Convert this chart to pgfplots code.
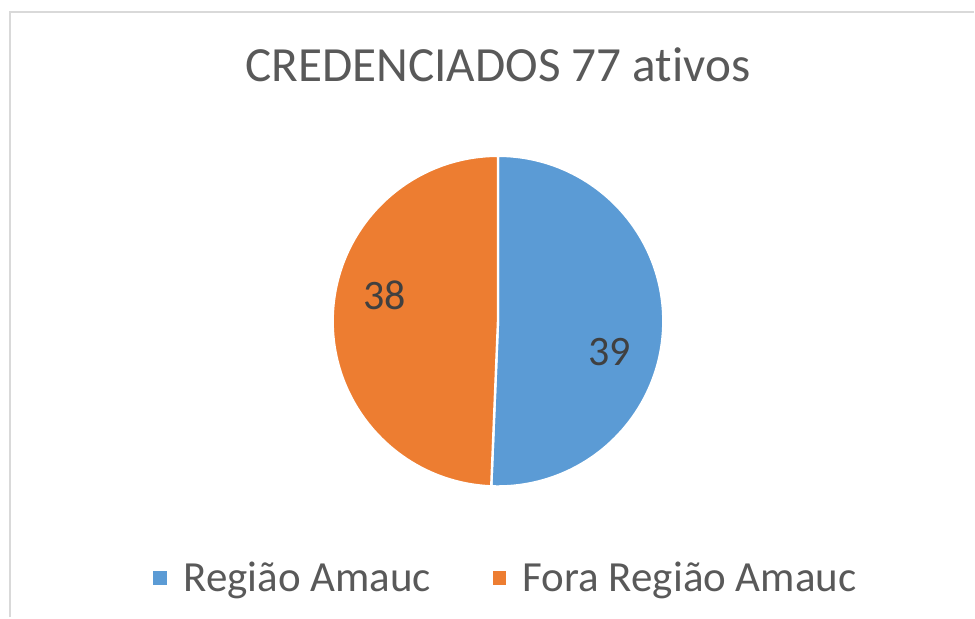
\documentclass[border=0pt]{standalone}
\usepackage{pgfplots}
\pgfplotsset{compat=1.18}
\usepackage{pgfplotstable}
\usepackage{fontspec}
\setmainfont[Ligatures={NoCommon,NoContextual}]{Carlito}
\definecolor{cblue}{HTML}{5B9BD5}
\definecolor{corange}{HTML}{ED7D31}
\definecolor{ctitle}{HTML}{595959}
\definecolor{clabel}{HTML}{404040}
\definecolor{cframe}{HTML}{D9D9D9}

\pgfplotstableread{
value
39
38
}\piedata

\begin{document}%
\begin{tikzpicture}
\pgfplotstablegetelem{0}{value}\of\piedata\edef\va{\pgfplotsretval}
\pgfplotstablegetelem{1}{value}\of\piedata\edef\vb{\pgfplotsretval}
\pgfmathsetmacro\angb{90-360*\va/(\va+\vb)}
\pgfmathsetmacro\bx{498.5+165.5*cos(\angb)}
\pgfmathsetmacro\by{296.5+165.5*sin(\angb)}
\begin{axis}[
  scale only axis, width=487.5pt, height=309pt,
  xmin=0, xmax=975, ymin=0, ymax=618,
  hide axis, clip=false,
  legend columns=2,
  legend style={at={(axis description cs:0.5205,0.0639)}, anchor=center,
    draw=none, fill=none, text=ctitle,
    font=\fontsize{21.5}{25}\selectfont,
    /tikz/every even column/.append style={column sep=29pt}},
  legend image code/.code={\fill[#1,draw=none] (0pt,-3.4pt) rectangle (6.8pt,3.4pt); \path (13pt,0pt);},
]
\path (axis cs:0,0) rectangle (axis cs:975,618);
\draw[cframe, line width=1pt] (axis cs:10,0) -- (axis cs:10,606) -- (axis cs:975,606);
\fill[cblue, draw=white, line width=1.2pt] (axis cs:498.5,296.5) -- (axis cs:498.5,462) arc[start angle=90, end angle=\angb, radius=165.5] -- cycle;
\fill[corange, draw=white, line width=1.2pt] (axis cs:498.5,296.5) -- (axis cs:\bx,\by) arc[start angle=\angb, end angle=-270, radius=165.5] -- cycle;
\node[text=clabel, font=\fontsize{21}{25}\selectfont] at (axis cs:610,266) {\va};
\node[text=clabel, font=\fontsize{21}{25}\selectfont] at (axis cs:385,322) {\vb};
\node[text=ctitle, font=\fontsize{24.6}{29}\selectfont] at (axis cs:498.5,553) {CREDENCIADOS 77 ativos};
\addlegendimage{fill=cblue,draw=none}
\addlegendentry{Região Amauc}
\addlegendimage{fill=corange,draw=none}
\addlegendentry{Fora Região Amauc}
\end{axis}
\end{tikzpicture}%
\end{document}
